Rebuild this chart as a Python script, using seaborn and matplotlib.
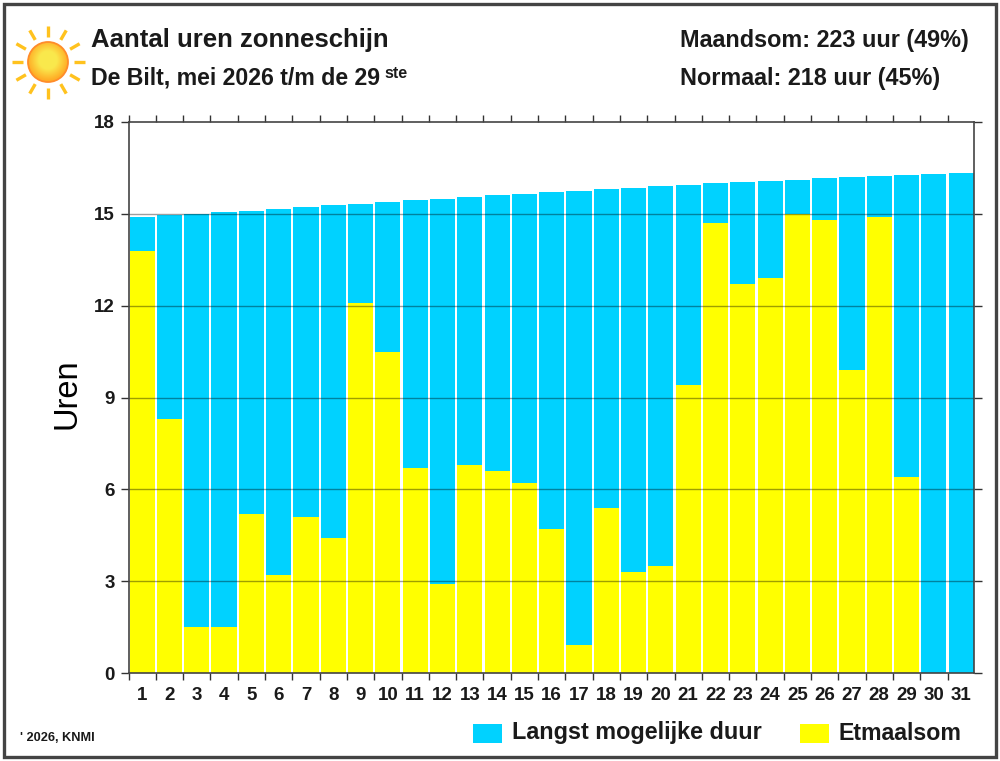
import numpy as np
import pandas as pd
import seaborn as sns
import matplotlib
matplotlib.use("Agg")
import matplotlib.pyplot as plt
from matplotlib.patches import Rectangle, Circle
from matplotlib.ticker import FixedLocator, NullFormatter

days = list(range(1, 32))
langst_mogelijk = [14.90, 14.95, 15.00, 15.05, 15.10, 15.17, 15.23, 15.28, 15.33, 15.38, 15.45,
                   15.50, 15.55, 15.60, 15.66, 15.70, 15.75, 15.80, 15.85, 15.90, 15.95, 16.00,
                   16.04, 16.08, 16.12, 16.17, 16.20, 16.23, 16.27, 16.30, 16.33]
etmaalsom = [13.8, 8.3, 1.5, 1.5, 5.2, 3.2, 5.1, 4.4, 12.1, 10.5, 6.7, 2.9, 6.8, 6.6, 6.2, 4.7,
             0.9, 5.4, 3.3, 3.5, 9.4, 14.7, 12.7, 12.9, 15.0, 14.8, 9.9, 14.9, 6.4, 0.0, 0.0]
y_ticks = [0, 3, 6, 9, 12, 15, 18]
BLUE = "#00D2FF"
YELLOW = "#FFFF00"
W, H = 1000, 761

sns.set_theme(style="white")
plt.rcParams["font.family"] = ["Liberation Sans", "DejaVu Sans"]
INK = "#1a1a1a"

df = pd.DataFrame({"dag": days, "max": langst_mogelijk, "som": etmaalsom})

fig = plt.figure(figsize=(W / 100, H / 100), dpi=100, facecolor="white")


def px_box(x0, y0, x1, y1):
    return [x0 / W, 1 - y1 / H, (x1 - x0) / W, (y1 - y0) / H]


ax = fig.add_axes(px_box(128.5, 122, 974, 673))
sns.barplot(data=df, x="dag", y="max", color=BLUE, saturation=1, width=0.92, linewidth=0, ax=ax, zorder=2)
sns.barplot(data=df, x="dag", y="som", color=YELLOW, saturation=1, width=0.92, linewidth=0, ax=ax, zorder=3)

ax.set_xlim(-0.5, 30.47)
ax.set_ylim(0, 18)
ax.set_xlabel("")
ax.set_ylabel("Uren", fontsize=23.5, color="black")
ax.yaxis.set_label_coords((82 - 128.5) / 845.5, 0.507)

# Horizontal grid over the bars
for v in y_ticks[1:-1]:
    ax.axhline(v, color="black", alpha=0.38, lw=1, zorder=4)

ax.yaxis.set_major_locator(FixedLocator(y_ticks))
ax.set_yticklabels([str(v) for v in y_ticks], fontsize=13.5, fontweight="bold", color=INK)
ax.tick_params(axis="y", which="major", left=True, right=True, direction="out",
               length=6, width=1, color="#333333", pad=4)

# Day labels sit under the bars, tick marks on the boundaries between days
ax.set_xticks(range(31))
ax.set_xticklabels([str(d) for d in days], fontsize=13.5, fontweight="bold", color=INK)
ax.tick_params(axis="x", which="major", length=0, pad=10)
ax.xaxis.set_minor_locator(FixedLocator(np.arange(-0.5, 30.0, 1)))
ax.xaxis.set_minor_formatter(NullFormatter())
ax.tick_params(axis="x", which="minor", bottom=True, top=True, direction="out",
               length=5, width=1, color="#333333")

for s in ax.spines.values():
    s.set_visible(True)
    s.set_linewidth(1.2)
    s.set_color("#444444")
    s.set_zorder(6)

# Overlay in pixel coordinates for the frame, sun and captions
ov = fig.add_axes([0, 0, 1, 1], facecolor="none", zorder=10)
ov.axis("off")

ov.add_patch(Rectangle((3.5, 4), 992, 753, fill=False, ec="#444444", lw=2.4))

# Sun: radial gradient disc with short rays
cx, cy, r = 48, 62, 20
n = 200
yy, xx = np.mgrid[-1:1:n * 1j, -1:1:n * 1j]
rad = np.clip(np.hypot(xx, yy + 0.1), 0, 1)
inner, outer = np.array([0.98, 0.91, 0.30]), np.array([1.0, 0.68, 0.15])
t = np.clip((rad - 0.45) / 0.55, 0, 1)[..., None]
img = ov.imshow(inner * (1 - t) + outer * t, extent=(cx - r, cx + r, cy + r, cy - r),
                zorder=2, aspect="auto", interpolation="bilinear")
img.set_clip_path(Circle((cx, cy), r, transform=ov.transData))
ov.add_patch(Circle((cx, cy), r, fill=False, ec="#FF8C2A", lw=1.3, zorder=3))
for a in np.deg2rad(np.arange(0, 360, 30) + 0):
    ov.plot([cx + 25.5 * np.cos(a), cx + 36.5 * np.cos(a)], [cy + 25.5 * np.sin(a), cy + 36.5 * np.sin(a)],
            color="#FFC21E", lw=2.4, solid_capstyle="butt", zorder=2)
ov.set_xlim(0, W)
ov.set_ylim(H, 0)


def caption(x, y, s, size):
    ov.text(x, y, s, fontsize=size, fontweight="bold", color=INK, va="center", ha="left")


caption(91, 40, "Aantal uren zonneschijn", 18.5)
caption(91, 78, "De Bilt, mei 2026 t/m de 29", 16.7)
caption(384, 73, "ste", 11.5)
caption(680, 40, "Maandsom: 223 uur (49%)", 16.85)
caption(680, 78, "Normaal: 218 uur (45%)", 16.85)
caption(20, 738, "' 2026, KNMI", 9.2)

# Legend
ov.add_patch(Rectangle((473, 724), 29, 19, fc=BLUE, ec="none"))
ov.add_patch(Rectangle((800, 724), 29, 19, fc=YELLOW, ec="none"))
caption(512, 733, "Langst mogelijke duur", 16.8)
caption(839, 733, "Etmaalsom", 16.7)

fig.savefig("out.png", dpi=100, facecolor="white")
